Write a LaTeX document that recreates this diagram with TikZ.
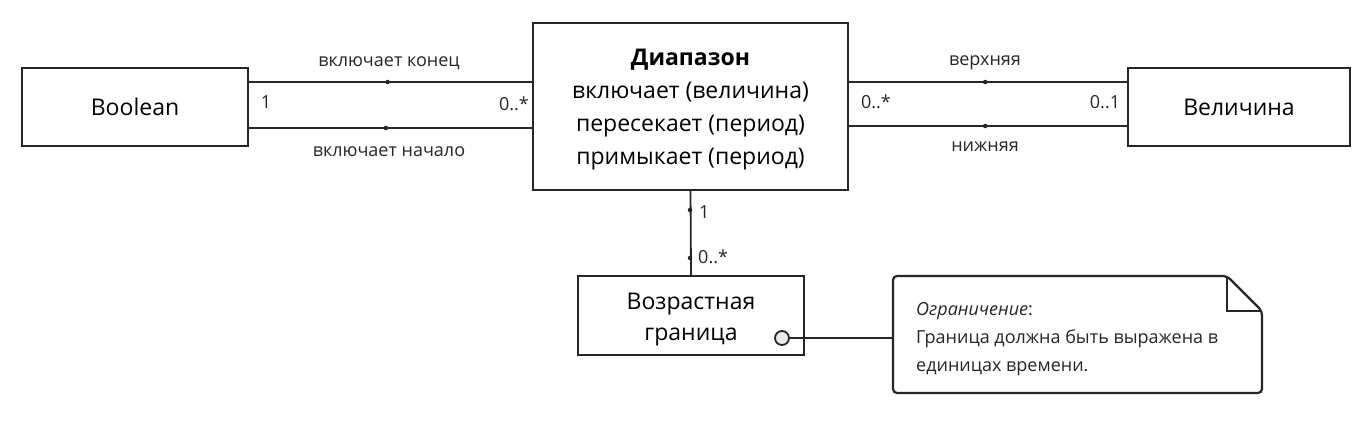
\documentclass[tikz,border=0pt]{standalone}
\usepackage{fontspec}
\setmainfont{Open Sans}
\begin{document}
\begin{tikzpicture}[x=1pt,y=-1pt,
  cls/.style={draw=black!85,line width=2.2pt,fill=white,inner sep=0pt,align=center,font=\fontsize{23}{33}\selectfont},
  conn/.style={draw=black!85,line width=1.8pt},
  lbl/.style={font=\fontsize{18}{22}\selectfont,text=black!85,inner sep=0pt},
  dotm/.style={circle,fill=black!85,inner sep=0pt,minimum size=4.5pt}]
\useasboundingbox (0,0) rectangle (1370,429);
% classes
\node[cls,minimum width=226pt,minimum height=78pt] (bool) at (135,107) {Boolean};
\node[cls,minimum width=315pt,minimum height=167pt] (range) at (690.5,106.5) {};
\node[align=center,font=\fontsize{23}{33}\selectfont,inner sep=0pt] (rangetxt) at (690.5,110) {\textbf{Диапазон}\\включает (величина)\\пересекает (период)\\примыкает (период)};
\node[cls,minimum width=222pt,minimum height=78pt] (val) at (1239,107) {Величина};
\node[cls,minimum width=226pt,minimum height=79pt] (age) at (691,315.5) {};
\node[align=center,font=\fontsize{23}{31}\selectfont,inner sep=0pt] (agetxt) at (691,319.5) {Возрастная\\граница};
% coordinates for connectors
\coordinate (bl1) at (248,82); \coordinate (rl1) at (533,82);
\coordinate (bl2) at (248,128); \coordinate (rl2) at (533,128);
\coordinate (rr1) at (848,82); \coordinate (vl1) at (1128,82);
\coordinate (rr2) at (848,126); \coordinate (vl2) at (1128,126);
\draw[conn] (bl1) -- (rl1) node[dotm,pos=0.49] (d1) {};
\draw[conn] (bl2) -- (rl2) node[dotm,pos=0.484] (d2) {};
\draw[conn] (rr1) -- (vl1) node[dotm,pos=0.49] (d3) {};
\draw[conn] (rr2) -- (vl2) node[dotm,pos=0.49] (d4) {};
\draw[conn] (range.south) -- (age.north);
\node[dotm] (d5) at (690,210) {};
\node[dotm] (d6) at (690,258) {};
% labels
\node[lbl] at (389,63) {включает конец};
\node[lbl] at (389,152) {включает начало};
\node[lbl] at (266,102) {1};
\node[lbl] at (514,104) {0..*};
\node[lbl] at (985,63) {верхняя};
\node[lbl] at (985,147) {нижняя};
\node[lbl] at (876,102) {0..*};
\node[lbl] at (1105,102) {0..1};
\node[lbl,anchor=west] at (699,212) {1};
\node[lbl,anchor=west] at (698,257) {0..*};
% note
\node[circle,draw=black!85,line width=1.8pt,fill=black!8,minimum size=14pt,inner sep=0pt] (circ) at (782,338) {};
\coordinate (nl) at (893,338);
\draw[conn] (circ.east) -- (nl);
\draw[draw=black!85,line width=2.2pt,fill=white,rounded corners=4pt]
  (893,276) -- (1227,276) -- (1262,311) -- (1262,393) -- (893,393) -- cycle;
\draw[draw=black!85,line width=2pt] (1227,276) -- (1227,311) -- (1262,311);
\node[lbl,anchor=west,align=left,font=\fontsize{18}{28}\selectfont] (note) at (916,339)
  {\textit{Ограничение}:\\Граница должна быть выражена в\\единицах времени.};
\end{tikzpicture}
\end{document}
